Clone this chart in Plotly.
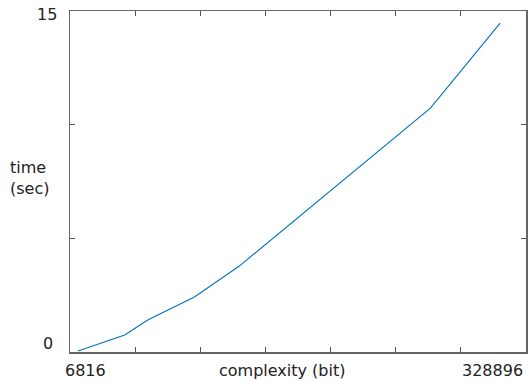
import plotly.graph_objects as go

# data
complexity_bits = [6816, 42500, 60000, 95700, 129900, 275700, 328896]
time_sec = [0.04, 0.75, 1.41, 2.42, 3.78, 10.73, 14.47]
x_label = "complexity (bit)"
y_label = "time<br>(sec)"
x_end_labels = ["6816", "328896"]
y_end_labels = ["0", "15"]

W, H = 530, 381
L, R, T, B = 70, 528, 11, 352
x_lo, x_hi = 738, 348636
y_lo, y_hi = 0, 15

def px(xp):
    return (xp - L) / (R - L)

def py(yp):
    return (B - yp) / (B - T)

fig = go.Figure()
fig.add_trace(go.Scatter(x=complexity_bits, y=time_sec, mode="lines",
                         line=dict(color="#0072bd", width=1.1), showlegend=False,
                         hoverinfo="skip"))

xticks = [x_lo + (x_hi - x_lo) * k / 7 for k in range(1, 7)]
axis_common = dict(showline=True, linecolor="#666666", linewidth=1.5, mirror="allticks",
                   ticks="inside", ticklen=5, tickcolor="#555555", tickwidth=1,
                   showgrid=False, zeroline=False, showticklabels=False)
fig.update_xaxes(range=[x_lo, x_hi], tickvals=xticks, **axis_common)
fig.update_yaxes(range=[y_lo, y_hi], tickvals=[5, 10], **axis_common)

font = dict(family="DejaVu Sans", size=16, color="#222222")
ann = []
ann.append(dict(text=x_end_labels[0], x=px(63), y=py(370), xanchor="left", yanchor="middle"))
ann.append(dict(text=x_end_labels[1], x=px(527), y=py(370), xanchor="right", yanchor="middle"))
ann.append(dict(text=x_label, x=px(283), y=py(370), xanchor="center", yanchor="middle"))
ann.append(dict(text=y_end_labels[1], x=px(47), y=py(15), xanchor="center", yanchor="middle"))
ann.append(dict(text=y_end_labels[0], x=px(48), y=py(343), xanchor="center", yanchor="middle"))
ann.append(dict(text=y_label, x=px(8), y=py(178), xanchor="left", yanchor="middle", align="left"))
for a in ann:
    a.update(xref="paper", yref="paper", showarrow=False, font=font)

fig.update_layout(width=W, height=H, margin=dict(l=L, r=W - R, t=T, b=H - B),
                  paper_bgcolor="white", plot_bgcolor="white", annotations=ann)

fig.write_html("out.html", config={"displayModeBar": False, "staticPlot": True},
               post_script="document.body.style.margin='0';document.body.style.overflow='hidden';")
